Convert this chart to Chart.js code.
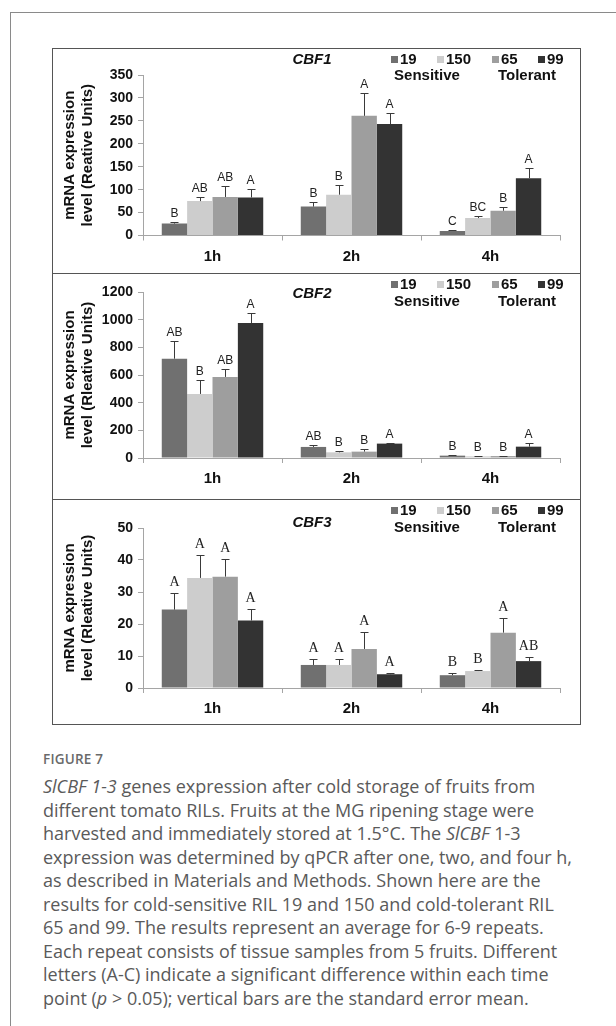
<!DOCTYPE html>
<html><head><meta charset="utf-8">
<script src="https://cdn.jsdelivr.net/npm/chart.js@4.4.1/dist/chart.umd.min.js"></script>
<style>
html,body{margin:0;padding:0;background:#fff;width:616px;height:1026px;overflow:hidden;position:relative;font-family:'Liberation Sans',Arial,sans-serif}
#card{position:absolute;left:10px;top:12px;width:700px;height:1100px;border:1px solid #8a8a8a;box-sizing:border-box}
#fig{position:absolute;left:52px;top:48px;width:529px;height:677px;border:1px solid #555;box-sizing:border-box}
.sep{position:absolute;left:52px;width:529px;height:1px;background:#555}
canvas{position:absolute}
.lg{position:absolute;font:bold 15px 'Liberation Sans',Arial,sans-serif;color:#111;white-space:nowrap;line-height:16px;height:16px}
.sq{position:absolute;width:7px;height:7px}
.ttl{position:absolute;font:italic bold 15px 'Liberation Sans',Arial,sans-serif;color:#111;line-height:16px;transform:translateX(-50%)}
#figlab{position:absolute;left:43px;top:750px;font:600 13.5px 'Open Sans',sans-serif;color:#6a6a6a;letter-spacing:0.2px}
#cap{position:absolute;left:43px;top:775px;font:400 18px 'Open Sans',sans-serif;color:#5a5a5a;line-height:23.5px;white-space:nowrap}
</style></head>
<body>
<div id="card"></div>
<div id="fig"></div>
<div class="sep" style="top:273px"></div>
<div class="sep" style="top:499px"></div>
<canvas id="c1" width="527" height="224" style="left:53px;top:49px"></canvas>
<canvas id="c2" width="527" height="225" style="left:53px;top:274px"></canvas>
<canvas id="c3" width="527" height="224" style="left:53px;top:500px"></canvas>
<div id="legends"></div>
<div id="figlab">FIGURE 7</div>
<div id="cap"><i>SlCBF 1-3</i> genes expression after cold storage of fruits from<br>different tomato RILs. Fruits at the MG ripening stage were<br>harvested and immediately stored at 1.5°C. The <i>SlCBF</i> 1-3<br>expression was determined by qPCR after one, two, and four h,<br>as described in Materials and Methods. Shown here are the<br>results for cold-sensitive RIL 19 and 150 and cold-tolerant RIL<br>65 and 99. The results represent an average for 6-9 repeats.<br>Each repeat consists of tissue samples from 5 fruits. Different<br>letters (A-C) indicate a significant difference within each time<br>point (<i>p</i> &gt; 0.05); vertical bars are the standard error mean.</div>
<script>
// ---------- data ----------
const timePoints = ['1h', '2h', '4h'];
const rilLines = ['19', '150', '65', '99'];
const groupLabels = ['Sensitive', 'Tolerant'];
const geneNames = ['CBF1', 'CBF2', 'CBF3'];
const yTitleTop = 'mRNA expression';
const yTitleBottom = ['level (Reative Units)', 'level (Rleative Units)', 'level (Rleative Units)'];

// CBF1 means / standard errors / letters (per RIL, across 1h, 2h, 4h)
const cbf1_19 = [26, 63, 10];
const cbf1_150 = [75, 89, 38];
const cbf1_65 = [84, 261, 54];
const cbf1_99 = [83, 243, 125];
const cbf1Err_19 = [4.5, 10, 2];
const cbf1Err_150 = [10, 21, 5];
const cbf1Err_65 = [24, 49, 9];
const cbf1Err_99 = [19, 24, 23];
const cbf1Let_19 = ['B', 'B', 'C'];
const cbf1Let_150 = ['AB', 'B', 'BC'];
const cbf1Let_65 = ['AB', 'A', 'B'];
const cbf1Let_99 = ['A', 'A', 'A'];
const cbf1Max = 350, cbf1Step = 50;

// CBF2
const cbf2_19 = [718, 80, 17];
const cbf2_150 = [463, 41, 12];
const cbf2_65 = [586, 46, 14];
const cbf2_99 = [976, 104, 82];
const cbf2Err_19 = [127, 16, 5];
const cbf2Err_150 = [103, 12, 2];
const cbf2Err_65 = [60, 21, 3];
const cbf2Err_99 = [72, 4, 24];
const cbf2Let_19 = ['AB', 'AB', 'B'];
const cbf2Let_150 = ['B', 'B', 'B'];
const cbf2Let_65 = ['AB', 'B', 'B'];
const cbf2Let_99 = ['A', 'A', 'A'];
const cbf2Max = 1200, cbf2Step = 200;

// CBF3
const cbf3_19 = [24.5, 7.2, 4.0];
const cbf3_150 = [34.4, 7.2, 5.3];
const cbf3_65 = [34.8, 12.2, 17.3];
const cbf3_99 = [21.1, 4.3, 8.4];
const cbf3Err_19 = [5.2, 1.9, 0.7];
const cbf3Err_150 = [7.3, 1.9, 0.4];
const cbf3Err_65 = [5.5, 5.3, 4.7];
const cbf3Err_99 = [3.6, 0.4, 1.3];
const cbf3Let_19 = ['A', 'A', 'B'];
const cbf3Let_150 = ['A', 'A', 'B'];
const cbf3Let_65 = ['A', 'A', 'A'];
const cbf3Let_99 = ['A', 'A', 'AB'];
const cbf3Max = 50, cbf3Step = 10;

// ---------- style ----------
const barColors = ['#707070', '#cdcdcd', '#9e9e9e', '#333333'];
const axisColor = '#a5a5a5';
const SANS = "'Liberation Sans', Arial, sans-serif";
Chart.defaults.font.family = SANS;

const errLetters = {
  id: 'errLetters',
  afterDatasetsDraw(chart, args, opts) {
    const ctx = chart.ctx, ys = chart.scales.y;
    chart.data.datasets.forEach((ds, i) => {
      const meta = chart.getDatasetMeta(i);
      meta.data.forEach((bar, j) => {
        const top = Math.round(ys.getPixelForValue(ds.data[j] + ds.err[j])) + 0.5;
        const x = Math.round(bar.x) + 0.5;
        ctx.save();
        ctx.strokeStyle = '#3a3a3a';
        ctx.lineWidth = 1;
        ctx.beginPath();
        ctx.moveTo(x, bar.y);
        ctx.lineTo(x, top);
        ctx.moveTo(x - 4, top);
        ctx.lineTo(x + 4, top);
        ctx.stroke();
        ctx.fillStyle = '#222';
        ctx.font = opts.font;
        ctx.textAlign = 'center';
        ctx.textBaseline = 'alphabetic';
        ctx.fillText(ds.letters[j], bar.x, top - opts.gap);
        ctx.restore();
      });
    });
  }
};

function makePanel(canvasId, idx, means, errs, lets, max, step, pad, letterFont, letterGap) {
  new Chart(document.getElementById(canvasId), {
    type: 'bar',
    data: {
      labels: timePoints,
      datasets: rilLines.map((n, k) => ({
        label: n, data: means[k], err: errs[k], letters: lets[k],
        backgroundColor: barColors[k], borderWidth: 0,
        categoryPercentage: 0.73, barPercentage: 1
      }))
    },
    options: {
      responsive: false, animation: false, devicePixelRatio: 1,
      layout: { padding: { top: pad[0], right: 20, bottom: pad[1], left: 0 } },
      plugins: { legend: { display: false }, tooltip: { enabled: false },
        errLetters: { font: letterFont, gap: letterGap } },
      scales: {
        x: {
          grid: { offset: true, drawOnChartArea: false, tickLength: 5, color: axisColor },
          border: { color: axisColor },
          ticks: { font: { size: 15, weight: 'bold' }, color: '#111', padding: 7 },
          afterFit(s) { s.height = 30; }
        },
        y: {
          min: 0, max: max,
          grid: { drawOnChartArea: false, tickLength: 5, color: axisColor },
          border: { color: axisColor },
          ticks: { stepSize: step, font: { size: 14, weight: 'bold' }, color: '#111', padding: 5,
            callback: (v) => String(v) },
          title: { display: true, text: [yTitleTop, yTitleBottom[idx]],
            font: { size: 15, weight: 'bold' }, color: '#111', padding: { top: 8, bottom: 0 } },
          afterFit(s) { s.width = 90; }
        }
      }
    },
    plugins: [errLetters]
  });
}

makePanel('c1', 0, [cbf1_19, cbf1_150, cbf1_65, cbf1_99], [cbf1Err_19, cbf1Err_150, cbf1Err_65, cbf1Err_99],
  [cbf1Let_19, cbf1Let_150, cbf1Let_65, cbf1Let_99], cbf1Max, cbf1Step, [26, 7.5], "12px " + SANS, 6);
makePanel('c2', 1, [cbf2_19, cbf2_150, cbf2_65, cbf2_99], [cbf2Err_19, cbf2Err_150, cbf2Err_65, cbf2Err_99],
  [cbf2Let_19, cbf2Let_150, cbf2Let_65, cbf2Let_99], cbf2Max, cbf2Step, [18, 11], "12px " + SANS, 6);
makePanel('c3', 2, [cbf3_19, cbf3_150, cbf3_65, cbf3_99], [cbf3Err_19, cbf3Err_150, cbf3Err_65, cbf3Err_99],
  [cbf3Let_19, cbf3Let_150, cbf3Let_65, cbf3Let_99], cbf3Max, cbf3Step, [28, 6], "14px 'Liberation Serif', 'Times New Roman', serif", 8);

// ---------- legends (HTML overlay) ----------
const legendRowY = [[59, 75, 59], [284, 301, 293], [510, 527, 522]]; // row1, row2, gene title centres
const itemSquareX = [391, 437, 492, 538];
const groupCenterX = [427, 527];
const titleCenterX = 312;
const host = document.getElementById('legends');
legendRowY.forEach((rows, p) => {
  const t = document.createElement('div');
  t.className = 'ttl'; t.textContent = geneNames[p];
  t.style.left = titleCenterX + 'px'; t.style.top = (rows[2] - 8) + 'px';
  host.appendChild(t);
  rilLines.forEach((n, k) => {
    const sq = document.createElement('div');
    sq.className = 'sq'; sq.style.background = barColors[k];
    sq.style.left = itemSquareX[k] + 'px'; sq.style.top = (rows[0] - 3) + 'px';
    host.appendChild(sq);
    const tx = document.createElement('div');
    tx.className = 'lg'; tx.textContent = n;
    tx.style.left = (itemSquareX[k] + 9) + 'px'; tx.style.top = (rows[0] - 8) + 'px';
    host.appendChild(tx);
  });
  groupLabels.forEach((g, k) => {
    const tx = document.createElement('div');
    tx.className = 'lg'; tx.textContent = g;
    tx.style.left = groupCenterX[k] + 'px'; tx.style.transform = 'translateX(-50%)';
    tx.style.top = (rows[1] - 8) + 'px';
    host.appendChild(tx);
  });
});
</script>
</body></html>
